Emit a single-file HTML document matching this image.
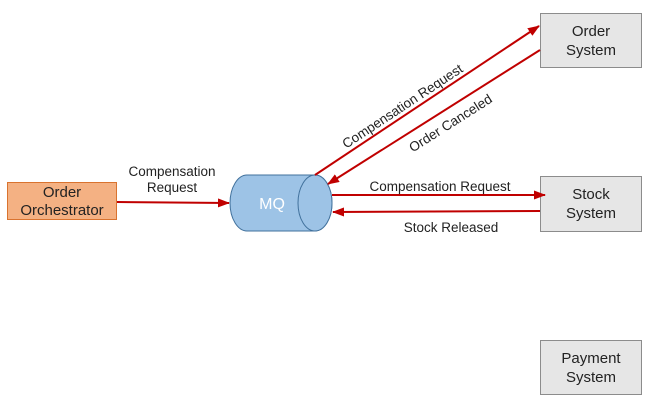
<!DOCTYPE html>
<html><head><style>body{margin:0;background:#fff}svg{display:block}text{font-family:"Liberation Sans",sans-serif;}</style></head>
<body>
<svg width="651" height="409" viewBox="0 0 651 409">
<defs><marker id="a" markerWidth="12" markerHeight="9" refX="11" refY="4.5" orient="auto" markerUnits="userSpaceOnUse"><path d="M0,0 L12,4.5 L0,9 z" fill="#c00000"/></marker></defs>
<rect x="7.5" y="182.5" width="109" height="37" fill="#f4b183" stroke="#d9732f"/>
<text x="62" y="197" font-size="15" text-anchor="middle" fill="#222">Order</text>
<text x="62" y="215" font-size="15" text-anchor="middle" fill="#222">Orchestrator</text>
<g fill="#e6e6e6" stroke="#8c8c8c">
<rect x="540.5" y="13.5" width="101" height="54"/>
<rect x="540.5" y="176.5" width="101" height="55"/>
<rect x="540.5" y="340.5" width="101" height="54"/>
</g>
<g font-size="15" text-anchor="middle" fill="#222">
<text x="591" y="36">Order</text><text x="591" y="55">System</text>
<text x="591" y="199">Stock</text><text x="591" y="218">System</text>
<text x="591" y="363">Payment</text><text x="591" y="382">System</text>
</g>
<path d="M247,175 H315 A17,28 0 0 1 315,231 H247 A17,28 0 0 1 247,175 Z" fill="#9dc3e6" stroke="#41719c"/>
<ellipse cx="315" cy="203" rx="17" ry="28" fill="#9dc3e6" stroke="#41719c"/>
<text x="272" y="209" font-size="16" text-anchor="middle" fill="#fff">MQ</text>
<g stroke="#c00000" stroke-width="2" fill="none" marker-end="url(#a)">
<line x1="117" y1="202" x2="229" y2="203"/>
<line x1="315" y1="175" x2="539" y2="26"/>
<line x1="540" y1="50" x2="328" y2="184"/>
<line x1="332" y1="195" x2="545" y2="195"/>
<line x1="540" y1="211" x2="333" y2="212"/>
</g>
<g font-size="13.5" fill="#222" text-anchor="middle">
<text x="172" y="176">Compensation</text><text x="172" y="192">Request</text>
<text x="440" y="191">Compensation Request</text>
<text x="451" y="232">Stock Released</text>
<text transform="translate(405,110) rotate(-33.5)">Compensation Request</text>
<text transform="translate(453,127) rotate(-32.5)">Order Canceled</text>
</g>
</svg>
</body></html>
